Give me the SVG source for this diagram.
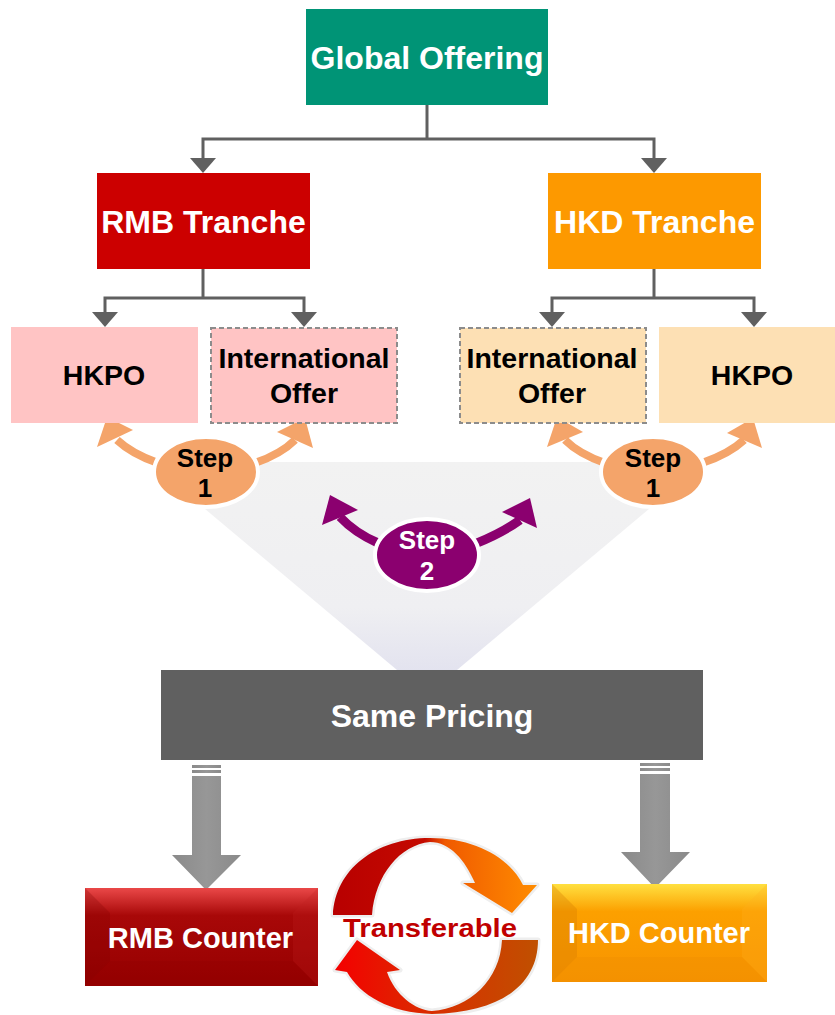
<svg xmlns="http://www.w3.org/2000/svg" width="835" height="1015" viewBox="0 0 835 1015">
<defs>
<style>
.t{font-family:"Liberation Sans",Arial,sans-serif;font-weight:bold;text-anchor:middle}
.w{fill:#ffffff}
.k{fill:#000000}
.ln{fill:none;stroke:#606060;stroke-width:3}
.ah{fill:#606060}
.dash{stroke:#8c8c8c;stroke-width:2;stroke-dasharray:5 3}
.step1{fill:#f4a46a;stroke:#ffffff;stroke-width:4}
.o-shaft{fill:none;stroke:#f4a46a;stroke-width:8}
.o-head{fill:#f4a46a}
.p-shaft{fill:none;stroke:#8b006f;stroke-width:9}
.p-head{fill:#8b006f}
.gray{fill:url(#gArrow)}
</style>
<linearGradient id="gFunnel" x1="0" y1="0" x2="0" y2="1">
<stop offset="0" stop-color="#f2f2f2"/>
<stop offset="0.7" stop-color="#efeff2"/>
<stop offset="1" stop-color="#e3e3ef"/>
</linearGradient>
<linearGradient id="gArrow" x1="0" y1="0" x2="1" y2="0">
<stop offset="0" stop-color="#8a8a8a"/>
<stop offset="0.5" stop-color="#979797"/>
<stop offset="1" stop-color="#8a8a8a"/>
</linearGradient>
<linearGradient id="gTop" x1="333" y1="0" x2="537" y2="0" gradientUnits="userSpaceOnUse">
<stop offset="0" stop-color="#b80000"/>
<stop offset="0.45" stop-color="#c40a00"/>
<stop offset="0.55" stop-color="#f05a00"/>
<stop offset="1" stop-color="#ff8c00"/>
</linearGradient>
<linearGradient id="gBot" x1="538" y1="0" x2="335" y2="0" gradientUnits="userSpaceOnUse">
<stop offset="0" stop-color="#c05000"/>
<stop offset="0.5" stop-color="#d83000"/>
<stop offset="1" stop-color="#f40000"/>
</linearGradient>
<linearGradient id="gRmb" x1="0" y1="0" x2="0" y2="1">
<stop offset="0" stop-color="#ea4848"/>
<stop offset="0.28" stop-color="#a80808"/>
<stop offset="1" stop-color="#960000"/>
</linearGradient>
<linearGradient id="gHkd" x1="0" y1="0" x2="0" y2="1">
<stop offset="0" stop-color="#ffe040"/>
<stop offset="0.28" stop-color="#fca000"/>
<stop offset="1" stop-color="#f89400"/>
</linearGradient>
</defs>

<!-- funnel background -->
<polygon points="149,462 705,462 457,670 397,670" fill="url(#gFunnel)"/>

<g id="connectors">
<polyline class="ln" points="427,105 427,139"/>
<polyline class="ln" points="203,159 203,139 654,139 654,159"/>
<polygon class="ah" points="190,158 216,158 203,173"/>
<polygon class="ah" points="641,158 667,158 654,173"/>
<polyline class="ln" points="203,269 203,298"/>
<polyline class="ln" points="105,313 105,298 304,298 304,313"/>
<polygon class="ah" points="92,312 118,312 105,327"/>
<polygon class="ah" points="291,312 317,312 304,327"/>
<polyline class="ln" points="654,269 654,298"/>
<polyline class="ln" points="552,313 552,298 754,298 754,313"/>
<polygon class="ah" points="539,312 565,312 552,327"/>
<polygon class="ah" points="741,312 767,312 754,327"/>
<!-- step 1 arrows -->
<path class="o-shaft" d="M158,463 Q132,454 117,440"/>
<polygon class="o-head" points="107,417 97,447 133,430"/>
<path class="o-shaft" d="M255,463 Q281,454 295,440"/>
<polygon class="o-head" points="305,418 313,448 277,432"/>
<path class="o-shaft" d="M605,463 Q579,454 565,440"/>
<polygon class="o-head" points="557,417 547,447 583,432"/>
<path class="o-shaft" d="M702,463 Q729,454 744,440"/>
<polygon class="o-head" points="753,418 762,448 727,433"/>
<!-- step 2 arrows -->
<path class="p-shaft" d="M378,543 Q355,533 340,517"/>
<polygon class="p-head" points="330,495 322,525 358,510"/>
<path class="p-shaft" d="M477,543 Q502,533 520,520"/>
<polygon class="p-head" points="530,498 537,528 502,512"/>
<!-- down arrows -->
<rect class="gray" x="192" y="765" width="29" height="3"/>
<rect class="gray" x="192" y="770" width="29" height="3"/>
<polygon class="gray" points="192,776 221,776 221,855 241,855 206,890 172,855 192,855"/>
<rect class="gray" x="640" y="763" width="30" height="3"/>
<rect class="gray" x="640" y="768" width="30" height="3"/>
<polygon class="gray" points="640,774 670,774 670,852 690,852 655,888 621,852 640,852"/>
</g>

<g id="global-offering">
<rect x="306" y="9" width="242" height="96" fill="#009476"/>
<text class="t w" x="427" y="69" font-size="32">Global Offering</text>
</g>

<g id="rmb-tranche">
<rect x="97" y="173" width="213" height="96" fill="#cc0000"/>
<text class="t w" x="203.5" y="233" font-size="32">RMB Tranche</text>
</g>

<g id="hkd-tranche">
<rect x="548" y="173" width="213" height="96" fill="#fd9900"/>
<text class="t w" x="654.5" y="233" font-size="32">HKD Tranche</text>
</g>

<g id="rmb-hkpo">
<rect x="11" y="327" width="187" height="96" fill="#ffc4c4"/>
<text class="t k" x="104" y="385" font-size="28.5">HKPO</text>
</g>

<g id="rmb-intl">
<rect x="211" y="328" width="186" height="95" fill="#ffc4c4" class="dash"/>
<text class="t k" x="304" y="368" font-size="28.5">International</text>
<text class="t k" x="304" y="403" font-size="28.5">Offer</text>
</g>

<g id="hkd-intl">
<rect x="460" y="328" width="186" height="95" fill="#fde0b4" class="dash"/>
<text class="t k" x="552" y="368" font-size="28.5">International</text>
<text class="t k" x="552" y="403" font-size="28.5">Offer</text>
</g>

<g id="hkd-hkpo">
<rect x="659" y="327" width="176" height="96" fill="#fde0b4"/>
<text class="t k" x="752" y="385" font-size="28.5">HKPO</text>
</g>

<g id="step1-left">
<ellipse class="step1" cx="206" cy="472" rx="52" ry="35"/>
<text class="t k" x="205" y="467" font-size="26">Step</text>
<text class="t k" x="205" y="497" font-size="26">1</text>
</g>

<g id="step1-right">
<ellipse class="step1" cx="653" cy="472" rx="52" ry="35"/>
<text class="t k" x="653" y="467" font-size="26">Step</text>
<text class="t k" x="653" y="497" font-size="26">1</text>
</g>

<g id="step2">
<ellipse cx="427" cy="555" rx="52" ry="36" fill="#8b006f" stroke="#ffffff" stroke-width="4"/>
<text class="t w" x="427" y="549" font-size="26">Step</text>
<text class="t w" x="427" y="580" font-size="26">2</text>
</g>

<g id="same-pricing">
<rect x="161" y="670" width="542" height="90" fill="#606060"/>
<text class="t w" x="432" y="727" font-size="32">Same Pricing</text>
</g>

<g id="rmb-counter">
<rect x="85" y="888" width="233" height="98" fill="url(#gRmb)"/>
<polygon points="85,888 110,913 110,961 85,986" fill="#7a0000" opacity="0.25"/>
<polygon points="318,888 293,913 293,961 318,986" fill="#c02020" opacity="0.25"/>
<polygon points="85,986 110,961 293,961 318,986" fill="#8c0000" opacity="0.2"/>
<text class="t w" x="200.5" y="948" font-size="29">RMB Counter</text>
</g>

<g id="hkd-counter">
<rect x="552" y="884" width="215" height="98" fill="url(#gHkd)"/>
<polygon points="552,884 577,909 577,957 552,982" fill="#d27800" opacity="0.3"/>
<polygon points="767,884 742,909 742,957 767,982" fill="#ffb020" opacity="0.25"/>
<polygon points="552,982 577,957 742,957 767,982" fill="#e88800" opacity="0.2"/>
<text class="t w" x="659" y="943" font-size="29">HKD Counter</text>
</g>

<g id="transferable">
<path d="M333,915 C335,870 375,838 430,838 C475,838 510,858 523,885 L537,885 L512,913 L463,883 L475,883 C465,860 450,842 430,842 C400,845 375,875 372,915 Z" fill="url(#gTop)" stroke="#eeeeee" stroke-width="5" stroke-linejoin="round" paint-order="stroke"/>
<path d="M538,940 C538,985 500,1013 432,1014 C390,1013 360,995 347,972 L335,970 L357,940 L400,970 L387,972 C395,995 415,1010 432,1011 C470,1008 500,980 502,940 Z" fill="url(#gBot)" stroke="#eeeeee" stroke-width="5" stroke-linejoin="round" paint-order="stroke"/>
<text class="t" x="430" y="937" font-size="25" fill="#c00000" textLength="174" lengthAdjust="spacingAndGlyphs">Transferable</text>
</g>
</svg>
